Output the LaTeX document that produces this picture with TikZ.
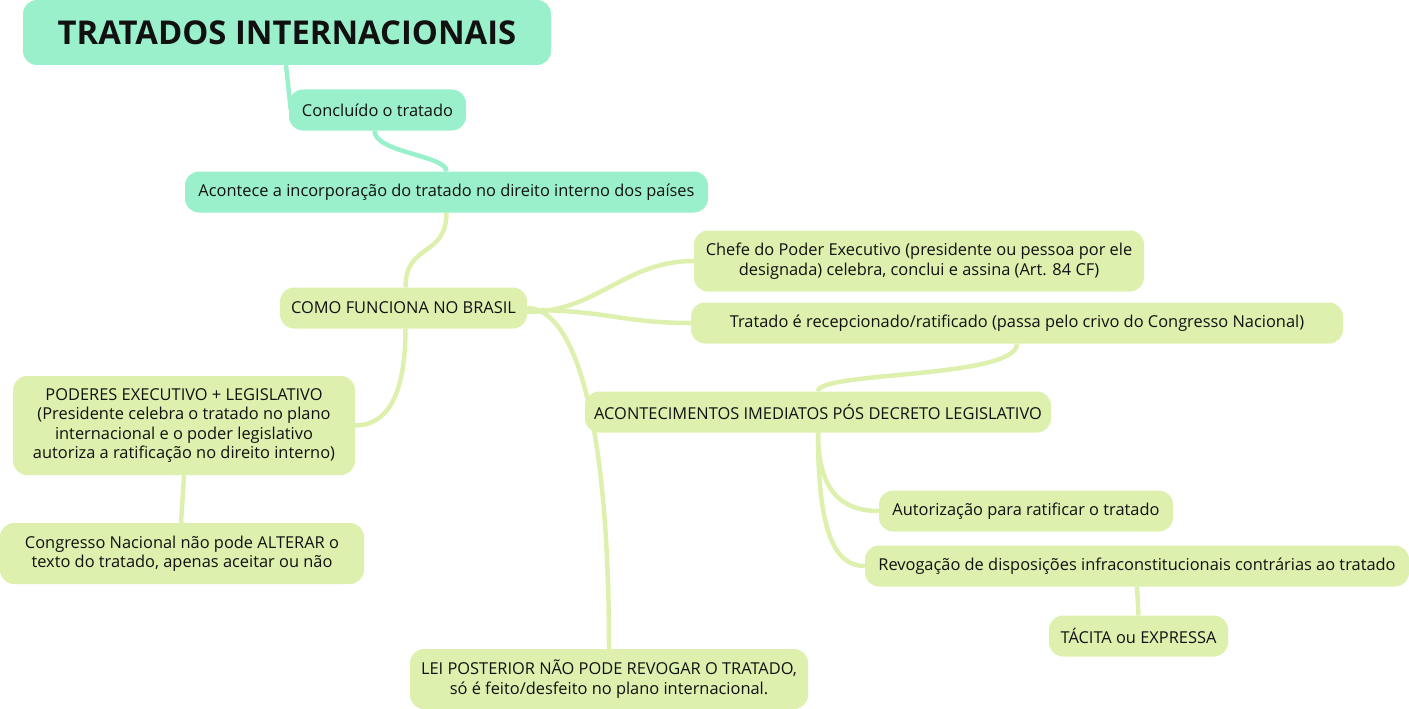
\documentclass[tikz,border=0pt]{standalone}
\usepackage{fontspec}
\setmainfont{Open Sans}
\usetikzlibrary{backgrounds}
\definecolor{mint}{RGB}{155,240,204}
\definecolor{lime}{RGB}{222,240,174}
\definecolor{ink}{RGB}{17,17,17}
\begin{document}
\begin{tikzpicture}[x=1pt,y=-1pt,
  box/.style={rounded corners=14pt, inner sep=3pt, align=center, text=ink,
    font=\fontsize{16.4}{19.5}\selectfont},
  mbox/.style={box, fill=mint},
  lbox/.style={box, fill=lime},
  mlink/.style={draw=mint, line width=4.5pt},
  llink/.style={draw=lime, line width=4.5pt}]
\useasboundingbox (0,0) rectangle (1409,709);

% nodes
\node[mbox, minimum width=528pt, minimum height=65pt, font=\fontsize{32.8}{38}\bfseries] (title) at (287,32.5) {TRATADOS INTERNACIONAIS};
\node[mbox, minimum width=177pt, minimum height=41pt] (conc) at (377.5,110) {Concluído o tratado};
\node[mbox, minimum width=523pt, minimum height=41pt] (acont) at (446.5,192) {Acontece a incorporação do tratado no direito interno dos países};
\node[lbox, minimum width=247pt, minimum height=41pt] (como) at (403.5,308) {COMO FUNCIONA NO BRASIL};
\node[lbox, minimum width=450pt, minimum height=61pt] (chefe) at (919,261) {Chefe do Poder Executivo (presidente ou pessoa por ele\\designada) celebra, conclui e assina (Art. 84 CF)};
\node[lbox, minimum width=652pt, minimum height=41pt] (trat) at (1017,323) {Tratado é recepcionado/ratificado (passa pelo crivo do Congresso Nacional)};
\node[lbox, minimum width=466pt, minimum height=41pt] (acon) at (818,412) {ACONTECIMENTOS IMEDIATOS PÓS DECRETO LEGISLATIVO};
\node[lbox, minimum width=294pt, minimum height=41pt] (aut) at (1026,511) {Autorização para ratificar o tratado};
\node[lbox, minimum width=544pt, minimum height=41pt] (revo) at (1137,566) {Revogação de disposições infraconstitucionais contrárias ao tratado};
\node[lbox, minimum width=179pt, minimum height=41pt] (tac) at (1138.5,636) {TÁCITA ou EXPRESSA};
\node[lbox, minimum width=398pt, minimum height=60pt] (lei) at (609,679) {LEI POSTERIOR NÃO PODE REVOGAR O TRATADO,\\só é feito/desfeito no plano internacional.};
\node[lbox, minimum width=342pt, minimum height=99pt] (pod) at (184,425.5) {PODERES EXECUTIVO + LEGISLATIVO\\(Presidente celebra o tratado no plano\\internacional e o poder legislativo\\autoriza a ratificação no direito interno)};
\node[lbox, minimum width=364pt, minimum height=61pt] (cong) at (182,553.5) {Congresso Nacional não pode ALTERAR o\\texto do tratado, apenas aceitar ou não};

\begin{scope}[on background layer]
\draw[mlink] ([xshift=-1pt]title.south) -- ([xshift=2pt]conc.west);
\draw[mlink] ([xshift=-3pt]conc.south) .. controls +(0,22) and +(0,-16) .. (acont.north);
\draw[llink] (acont.south) .. controls +(0,45) and +(0,-45) .. ([xshift=2pt]como.north);
\draw[llink] ([xshift=2pt]como.south) .. controls +(0,70) and +(30,0) .. (pod.east);
\draw[llink] (pod.south) -- ([xshift=-1pt]cong.north);
\draw[llink] ([yshift=-4pt]como.east) .. controls +(70,0) and +(-70,0) .. (chefe.west);
\draw[llink] ([yshift=-2pt]como.east) .. controls +(80,0) and +(-70,0) .. (trat.west);
\draw[llink] (como.east) .. controls +(42,0) and +(0,-250) .. (lei.north);
\draw[llink] (trat.south) .. controls +(0,35) and +(0,-20) .. (acon.north);
\draw[llink] (acon.south) .. controls +(0,55) and +(-40,0) .. (aut.west);
\draw[llink] (acon.south) .. controls +(0,100) and +(-30,0) .. (revo.west);
\draw[llink] (revo.south) -- (tac.north);
\end{scope}
\end{tikzpicture}
\end{document}
